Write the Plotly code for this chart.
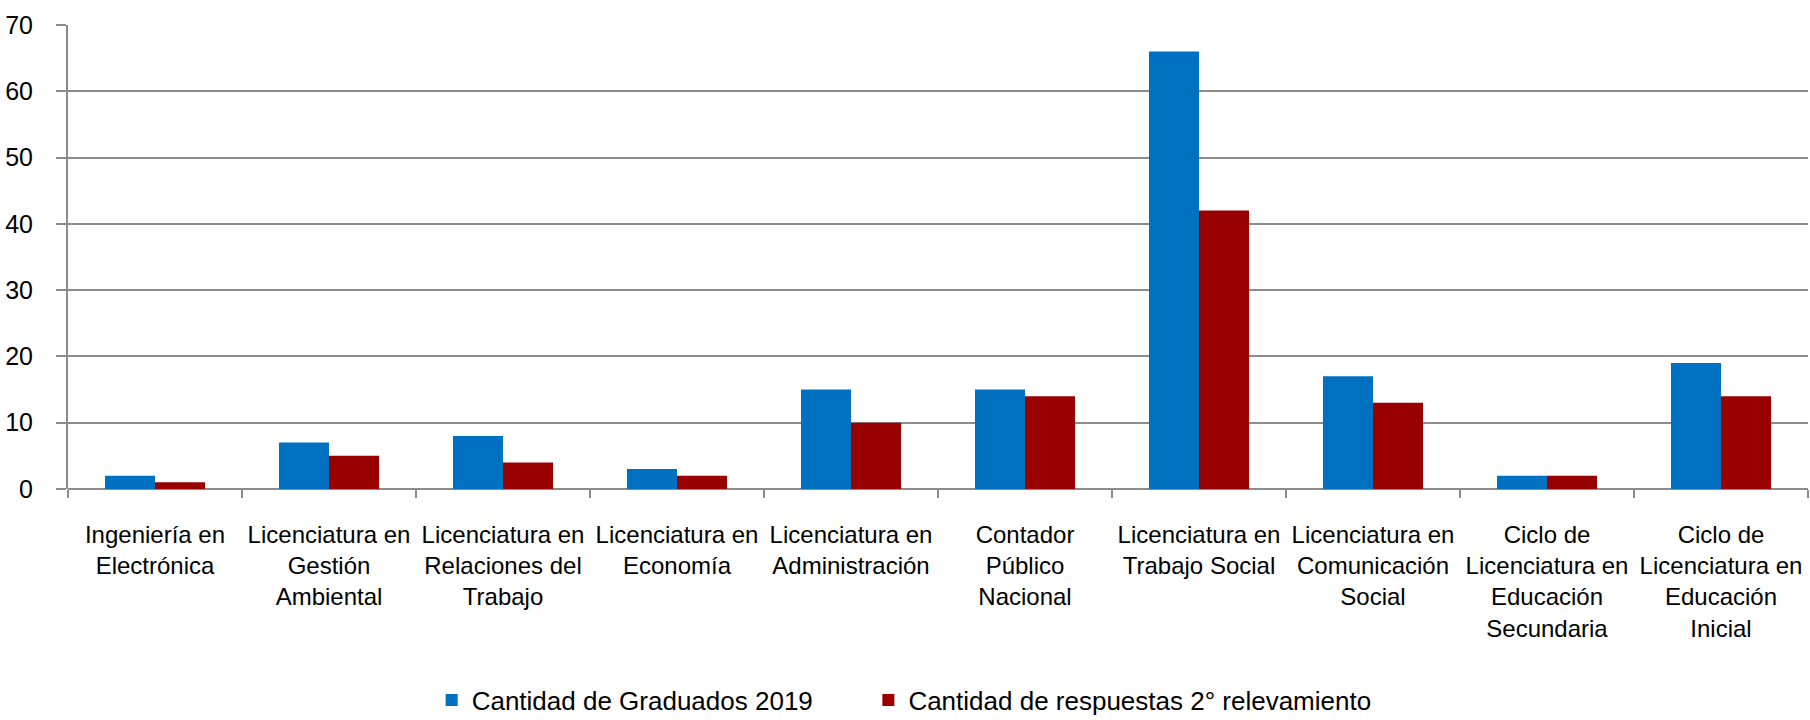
import plotly.graph_objects as go

categories = [
    "Ingeniería en<br>Electrónica",
    "Licenciatura en<br>Gestión<br>Ambiental",
    "Licenciatura en<br>Relaciones del<br>Trabajo",
    "Licenciatura en<br>Economía",
    "Licenciatura en<br>Administración",
    "Contador<br>Público<br>Nacional",
    "Licenciatura en<br>Trabajo Social",
    "Licenciatura en<br>Comunicación<br>Social",
    "Ciclo de<br>Licenciatura en<br>Educación<br>Secundaria",
    "Ciclo de<br>Licenciatura en<br>Educación<br>Inicial",
]
graduados = [2, 7, 8, 3, 15, 15, 66, 17, 2, 19]
respuestas = [1, 5, 4, 2, 10, 14, 42, 13, 2, 14]
series_names = ["Cantidad de Graduados 2019", "Cantidad de respuestas 2° relevamiento"]
y_ticks = [0, 10, 20, 30, 40, 50, 60, 70]

FONT = "Liberation Sans, Arial, sans-serif"
GRID = "#8c8c8c"
PAD = "\u00a0" * 7

fig = go.Figure()
fig.add_trace(go.Bar(x=categories, y=graduados, name=series_names[0] + PAD,
                     marker=dict(color="#0070C0", line=dict(width=0))))
fig.add_trace(go.Bar(x=categories, y=respuestas, name=series_names[1],
                     marker=dict(color="#990000", line=dict(width=0))))

fig.update_layout(
    width=1810, height=720,
    margin=dict(l=68, r=2, t=25, b=231, autoexpand=False),
    paper_bgcolor="white", plot_bgcolor="white",
    barmode="group", bargap=0.425, bargroupgap=0,
    font=dict(family=FONT, size=24, color="black"),
    showlegend=True,
    legend=dict(orientation="h", x=0.209, xanchor="left", y=-0.455, yanchor="middle",
                font=dict(family=FONT, size=26, color="black"),
                itemwidth=30, traceorder="normal"),
)
fig.update_xaxes(
    automargin=False,
    showgrid=False, showline=False, zeroline=False,
    ticks="outside", tickson="boundaries", ticklen=8, tickwidth=2, tickcolor=GRID,
    tickangle=0, tickfont=dict(family=FONT, size=24, color="black"),
    ticklabelstandoff=29,
)
fig.update_yaxes(
    automargin=False,
    range=[0, 70], tickvals=y_ticks, showgrid=True, gridcolor=GRID, gridwidth=2,
    showline=True, linecolor=GRID, linewidth=2, zeroline=True, zerolinecolor=GRID, zerolinewidth=2,
    ticks="outside", ticklen=10, tickwidth=2, tickcolor=GRID,
    tickfont=dict(family=FONT, size=25, color="black"),
    ticklabelstandoff=18,
)

fig.write_html("out.html", config={"displayModeBar": False},
               post_script="document.body.style.margin='0';document.body.style.overflow='hidden';")
